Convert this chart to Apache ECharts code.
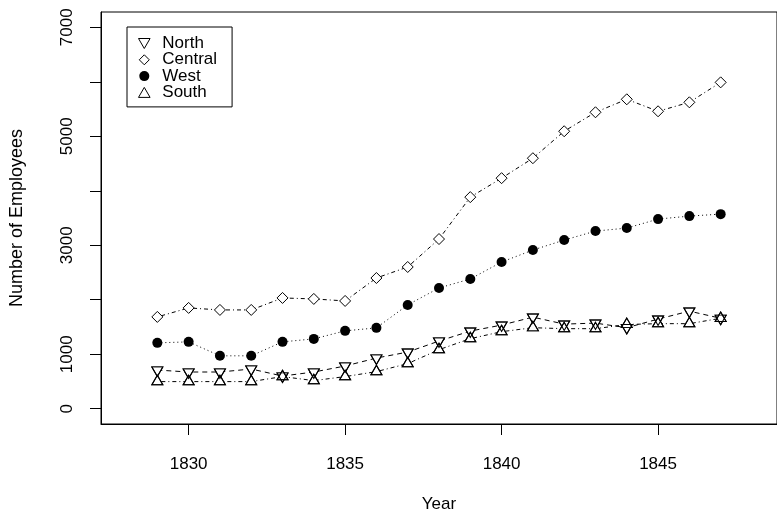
<!DOCTYPE html>
<html>
<head>
<meta charset="utf-8">
<script src="https://cdn.jsdelivr.net/npm/echarts@6/dist/echarts.min.js"></script>
<style>
  html, body { margin: 0; padding: 0; background: #fff; }
  #chart { width: 777px; height: 520px; }
</style>
</head>
<body>
<div id="chart"></div>
<script>
const years = [1829, 1830, 1831, 1832, 1833, 1834, 1835, 1836, 1837, 1838,
  1839, 1840, 1841, 1842, 1843, 1844, 1845, 1846, 1847]
const north = [710, 674, 674, 729, 600, 674, 784, 930, 1040, 1242,
  1425, 1535, 1681, 1553, 1571, 1487, 1645, 1791, 1660]
const central = [1685, 1850, 1813, 1813, 2033, 2015, 1978, 2399, 2601, 3114,
  3883, 4231, 4597, 5092, 5440, 5678, 5458, 5623, 5989]
const west = [1209, 1227, 971, 971, 1227, 1282, 1429, 1484, 1905, 2216,
  2381, 2692, 2912, 3095, 3260, 3315, 3480, 3535, 3571]
const south = [498, 498, 498, 498, 590, 516, 590, 681, 828, 1084,
  1286, 1414, 1487, 1469, 1469, 1546, 1561, 1561, 1660]

const xTicks = [1830, 1835, 1840, 1845]
const yTicks = [0, 1000, 2000, 3000, 4000, 5000, 6000, 7000]
const yLabels = [0, 1000, 3000, 5000, 7000]

const FONT = 'Liberation Sans'
const FS = 17
const FS_TITLE = 18
const DOWN = 'path://M0,0L11,0L5.5,9.5Z'
const UP = 'path://M5.5,0L11,9.5L0,9.5Z'
const DIAMOND = 'path://M5.5,0L11,5.5L5.5,11L0,5.5Z'

const pairs = (vals) => years.map((y, i) => [y, vals[i]])

const hollow = { color: '#fff', borderColor: '#000', borderWidth: 1 }
const outline = { color: 'rgba(0,0,0,0)', borderColor: '#000', borderWidth: 1 }

function lineSeries(name, vals, symbol, size, offset, itemStyle, dash, z) {
  return {
    name: name,
    type: 'line',
    data: pairs(vals),
    symbol: symbol,
    symbolSize: size,
    symbolOffset: offset,
    showAllSymbol: true,
    itemStyle: itemStyle,
    lineStyle: { color: '#000', width: 1, type: dash },
    emphasis: { disabled: true },
    animation: false,
    z: z
  }
}

const chart = echarts.init(document.getElementById('chart'), null, { renderer: 'canvas' })

chart.setOption({
  backgroundColor: '#fff',
  animation: false,
  textStyle: { fontFamily: FONT, color: '#000' },
  grid: {
    left: 101, top: 12, bottom: 96, right: -9,
    show: true, borderColor: '#000', borderWidth: 1, backgroundColor: 'transparent'
  },
  legend: {
    left: 127, top: 27,
    orient: 'vertical',
    itemWidth: 26, itemHeight: 10, itemGap: -0.7,
    padding: [8, 15, 6, 11],
    borderColor: '#000', borderWidth: 1, borderRadius: 0,
    textStyle: { fontFamily: FONT, fontSize: FS, color: '#000' },
    selectedMode: false,
    data: [
      { name: 'North', icon: DOWN, itemStyle: hollow },
      { name: 'Central', icon: DIAMOND, itemStyle: hollow },
      { name: 'West', icon: 'circle', itemStyle: { color: '#000', borderWidth: 0 } },
      { name: 'South', icon: UP, itemStyle: hollow }
    ]
  },
  xAxis: {
    type: 'value',
    min: 1827.2, max: 1848.8,
    name: 'Year', nameLocation: 'middle', nameGap: 72,
    nameTextStyle: { fontFamily: FONT, fontSize: FS, color: '#000' },
    axisLine: { show: true, onZero: false, lineStyle: { color: '#000', width: 1 } },
    axisTick: { show: true, length: 11, customValues: xTicks, lineStyle: { color: '#000' } },
    axisLabel: {
      customValues: xTicks, margin: 32, fontSize: FS, color: '#000', fontFamily: FONT,
      formatter: (v) => String(v)
    },
    splitLine: { show: false }
  },
  yAxis: {
    type: 'value',
    min: -280, max: 7280,
    name: 'Number of Employees', nameLocation: 'middle', nameGap: 75,
    nameTextStyle: { fontFamily: FONT, fontSize: FS_TITLE, color: '#000' },
    axisLine: { show: true, onZero: false, lineStyle: { color: '#000', width: 1 } },
    axisTick: { show: true, length: 11, customValues: yTicks, lineStyle: { color: '#000' } },
    axisLabel: {
      customValues: yLabels, rotate: 90, margin: 25, fontSize: FS, color: '#000', fontFamily: FONT,
      formatter: (v) => String(v)
    },
    splitLine: { show: false }
  },
  series: [
    lineSeries('North', north, DOWN, [11, 9.5], [0, 1.6], hollow, [5, 4], 2),
    lineSeries('Central', central, DIAMOND, 11, [0, 0], hollow, [1, 3, 4, 3], 2),
    lineSeries('West', west, 'circle', 10, [0, 0], { color: '#000', borderWidth: 0 }, [1, 3], 2),
    lineSeries('South', south, UP, [11, 9.5], [0, -1.6], hollow, [1, 3, 4, 3], 2),
    Object.assign(lineSeries('North', north, DOWN, [11, 9.5], [0, 1.6], outline, 'solid', 3),
      { lineStyle: { width: 0, opacity: 0 } }),
    Object.assign(lineSeries('South', south, UP, [11, 9.5], [0, -1.6], outline, 'solid', 3),
      { lineStyle: { width: 0, opacity: 0 } })
  ]
})
</script>
</body>
</html>
